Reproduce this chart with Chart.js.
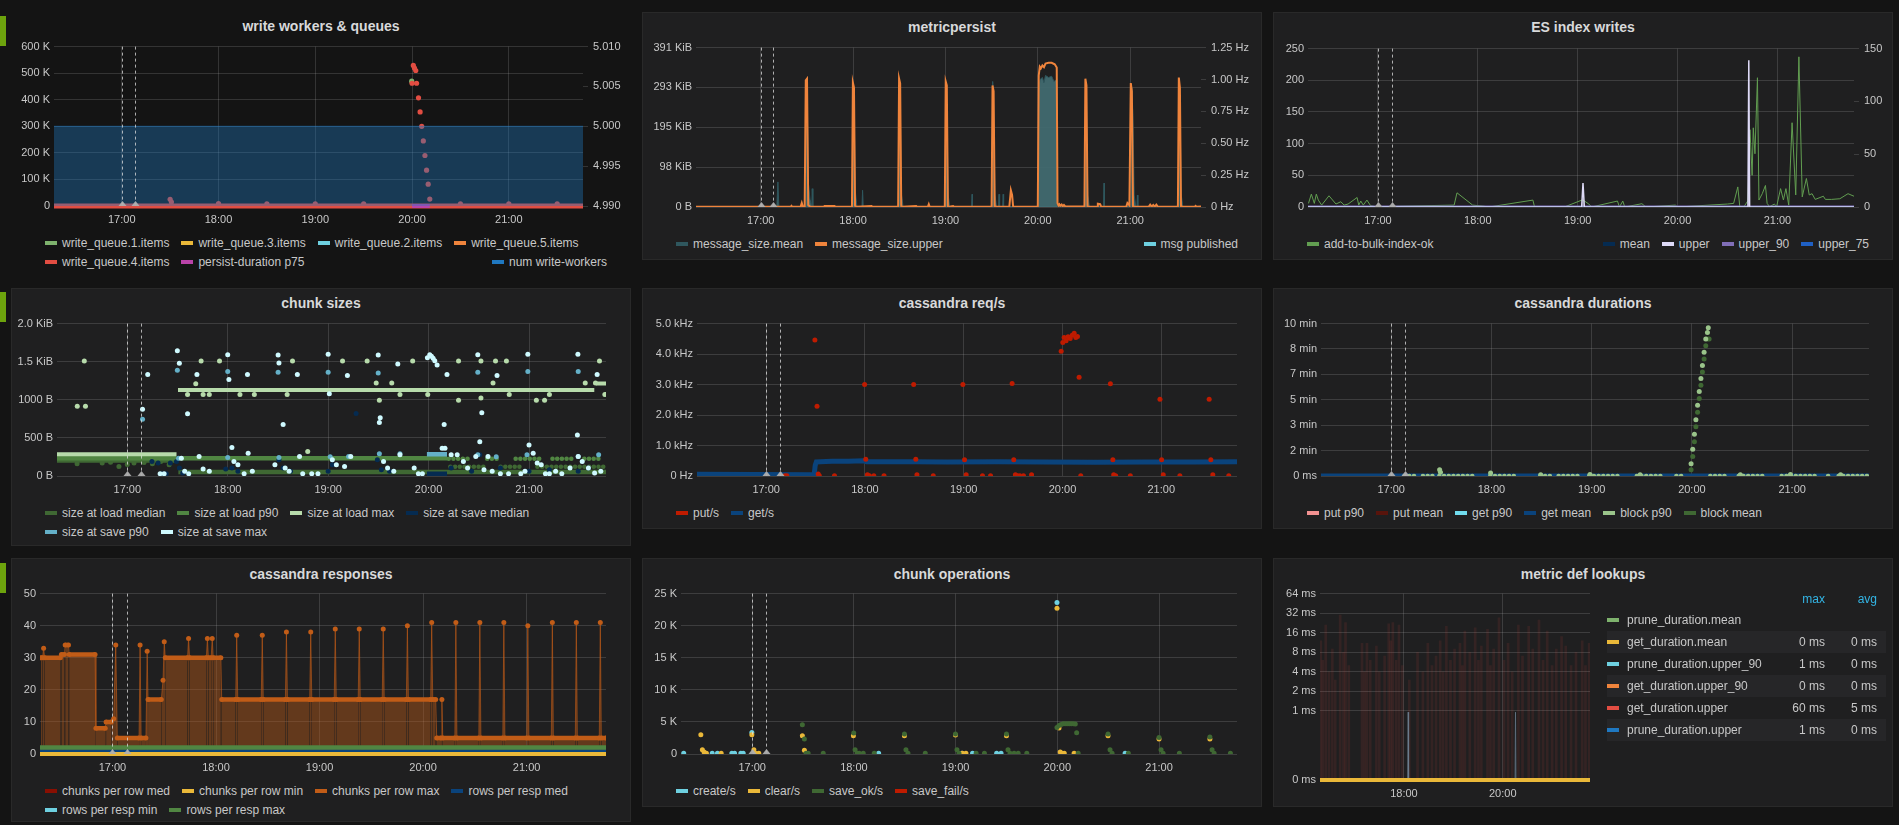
<!DOCTYPE html>
<html>
<head>
<meta charset="utf-8">
<title>metrictank dashboard</title>
<script src="https://cdn.jsdelivr.net/npm/chart.js@4.4.1/dist/chart.umd.min.js"></script>
<style>
  body { margin: 0; width: 1899px; height: 825px; overflow: hidden; background: #141414; font-family: "Liberation Sans", Arial, sans-serif; }
  .panel { position: absolute; box-sizing: border-box; background: #1f1f20; border: 1px solid #292929; }
  .panel.transparent { background: transparent; border-color: transparent; }
  .rowmark { position: absolute; left: 0; width: 6px; height: 30px; background: #6da30d; }
  .ptitle { position: absolute; text-align: center; font-size: 14px; font-weight: bold; line-height: 16px; color: #d8d9da; }
  .legend { position: absolute; font-size: 12px; line-height: 16px; color: #c8c8c8; white-space: nowrap; }
  .li { display: inline-block; margin-right: 12px; }
  .li:last-child { margin-right: 0; }
  .sw { display: inline-block; width: 12px; height: 4px; margin-right: 5px; vertical-align: middle; position: relative; top: -1px; }
  canvas { position: absolute; }
  .ltable { position: absolute; font-size: 12px; color: #c8c8c8; }
  .ltable table { border-collapse: collapse; }
  .ltable td { height: 22px; padding: 0; white-space: nowrap; }
  .ltable tr.odd td { background: #262628; }
  .ltable th { height: 20px; padding: 0; font-weight: normal; color: #33b5e5; text-align: right; }
</style>
</head>
<body>
<script>
// ======================================
// DATA  (time = minutes after 16:00)
// ======================================
const tMin = 18, tMax = 346;
const hourTicks = [60, 120, 180, 240, 300];
const hourLabels = ['17:00', '18:00', '19:00', '20:00', '21:00'];
const lookupHourTicks = [120, 240];
const lookupHourLabels = ['18:00', '20:00'];
const annotationTimes = [60, 68.2];

// --- write workers & queues ---
const wwLeftTicks = [0, 100000, 200000, 300000, 400000, 500000, 600000];
const wwLeftLabels = ['0', '100 K', '200 K', '300 K', '400 K', '500 K', '600 K'];
const wwRightTicks = [4.99, 4.995, 5.0, 5.005, 5.01];
const wwRightLabels = ['4.990', '4.995', '5.000', '5.005', '5.010'];
const numWriteWorkers = [[18, 5], [346, 5]];
const queueIdle = [[18, 0], [346, 0]];
const writeQueue4 = [[90, 25000], [90.8, 15000], [120, 9000], [150, 8000], [180, 8000], [210, 8000], [240, 462000], [240.8, 529000], [241.5, 519000], [242.3, 510000], [242.8, 462000], [244, 407000], [245, 354000], [246, 300000], [247, 245000], [248, 190000], [249, 135000], [250, 82000], [251, 26000], [270, 8000], [300, 8000], [330, 8000]];
const writeQueue1 = [[239.8, 470000]];
const persistP75 = [[240, 0], [251, 0]];

// --- metricpersist ---
const mpLeftTicks = [0, 100000, 200000, 300000, 400000];
const mpLeftLabels = ['0 B', '98 KiB', '195 KiB', '293 KiB', '391 KiB'];
const mpRightTicks = [0, 0.25, 0.5, 0.75, 1, 1.25];
const mpRightLabels = ['0 Hz', '0.25 Hz', '0.50 Hz', '0.75 Hz', '1.00 Hz', '1.25 Hz'];
const msgSizeUpper = [[18, 500], [79.5, 500], [80, 3000], [80.5, 500], [86, 1000], [86.7, 10000], [87.4, 1000], [88.6, 2000], [89.3, 318000], [90.1, 322000], [90.9, 5000], [92, 1000], [101, 500], [101.5, 2500], [108, 2500], [108.5, 500], [119.3, 1000], [119.9, 312000], [120.6, 300000], [121.3, 3000], [122.2, 500], [132, 2500], [132.8, 500], [149.3, 1000], [149.9, 322000], [150.6, 310000], [151.3, 2000], [152.2, 500], [161, 2500], [161.6, 500], [168.6, 500], [169.2, 7000], [169.8, 500], [179.6, 1000], [180.2, 315000], [180.9, 305000], [181.6, 2000], [182.5, 500], [185, 2500], [185.6, 500], [210, 1000], [210.6, 305000], [211.3, 290000], [212, 2000], [213, 500], [221.5, 500], [222.5, 42000], [223.3, 30000], [224, 500], [240, 500], [240.6, 330000], [241.3, 352000], [242, 348000], [243, 355000], [244, 351000], [245, 360000], [247, 362000], [249, 362000], [251, 358000], [252.3, 350000], [252.8, 10000], [253.4, 4000], [254, 7000], [254.6, 3000], [255.5, 6000], [256.2, 2000], [257, 5000], [258, 1000], [270.3, 1000], [270.9, 322000], [271.6, 305000], [272.3, 2000], [273.2, 500], [278.5, 500], [279, 8000], [280.5, 7000], [281.2, 500], [297.5, 1000], [298.2, 10000], [299.5, 4000], [300.4, 311000], [301.1, 290000], [301.8, 2000], [302.7, 500], [312, 500], [313, 6000], [314, 1000], [315, 5000], [316, 1000], [317, 6000], [318, 500], [331, 1000], [331.6, 325000], [332.3, 300000], [333, 2000], [334, 500], [342, 500], [342.5, 2500], [343, 500], [346, 1000]];
const msgSizeMean = [[18, 0], [70.5, 0], [71.2, 63000], [71.8, 0], [88.8, 0], [89.4, 300000], [90.2, 280000], [91, 60000], [92, 20000], [93.2, 0], [93.5, 46000], [93.9, 0], [119.4, 0], [120, 295000], [120.7, 250000], [121.5, 40000], [122.5, 0], [125.8, 0], [126.2, 42000], [126.6, 0], [149.4, 0], [150, 300000], [150.7, 240000], [151.5, 30000], [152.5, 0], [179.7, 0], [180.3, 310000], [181, 230000], [181.8, 30000], [182.8, 0], [197, 0], [197.3, 32000], [197.6, 0], [210.1, 0], [210.7, 315000], [211.4, 230000], [212.2, 30000], [213.2, 0], [214.5, 0], [214.8, 32000], [215.2, 0], [217.2, 0], [217.5, 32000], [217.8, 0], [240.3, 0], [240.8, 300000], [241.5, 320000], [243, 325000], [244, 312000], [245, 330000], [247, 325000], [249, 328000], [250.5, 315000], [252.4, 320000], [252.8, 0], [270.4, 0], [271, 300000], [271.7, 240000], [272.5, 30000], [273.5, 0], [282.7, 0], [283, 60000], [283.3, 0], [300.5, 0], [301.1, 300000], [301.8, 230000], [302.6, 30000], [303.6, 0], [304.4, 0], [304.7, 30000], [305, 0], [331.1, 0], [331.7, 310000], [332.4, 240000], [333.2, 30000], [334.2, 0], [346, 0]];
const msgPublished = [[18, 0], [346, 0]];

// --- ES index writes ---
const esLeftTicks = [0, 50, 100, 150, 200, 250];
const esLeftLabels = ['0', '50', '100', '150', '200', '250'];
const esRightTicks = [0, 50, 100, 150];
const esRightLabels = ['0', '50', '100', '150'];
const bulkIndexOk = [[18.3, 5.7], [20, 20.3], [21.8, 5.7], [23, 20.3], [24.2, 10.9], [26.2, 3], [30.6, 17.7], [34.8, 4.7], [37.7, 8.3], [39.7, 3], [42.1, 4.7], [47.5, 15], [48.5, 3], [49.7, 9.4], [51.2, 3], [53.4, 10.9], [55.6, 2], [58.8, 0.5], [105.8, 3], [107.5, 22.4], [116.9, 3], [123, 1.5], [126.7, 0], [153.1, 10.9], [154.1, 0], [172, 0], [183, 11.4], [186.7, 4.7], [188.4, 0], [203.9, 9.4], [205.1, 0], [207.1, 9.4], [208.3, 0], [218.6, 5.2], [221, 0], [238.7, 3], [239.9, 0], [270, 4.7], [273.7, 5.7], [276.2, 31.7], [277.4, 0.5], [279.9, 0.5], [282.3, 10], [283.5, 122], [284.8, 50], [285.5, 125], [286.5, 84], [288, 204], [288.9, 11], [290.9, 21], [292.8, 34], [293.8, 5.7], [295.3, 0.5], [298.2, 4.7], [299.5, 0.5], [301.9, 29], [303.6, 11], [305.1, 29], [306.8, 3], [308.8, 133], [311, 19], [312.9, 237], [314.9, 16], [317.4, 45], [319.1, 19], [320.8, 21], [322.7, 12], [327.6, 17], [328.8, 12], [332.5, 12], [337.5, 13], [342.4, 21], [346, 17]];
const esUpper = [[18, 0], [182.4, 0], [183.2, 22.8], [184, 0], [282.3, 0], [282.8, 139], [283.3, 0], [346, 0]];
const esUpper90 = [[18, 0], [346, 0]];
const esUpper75 = [[18, 0], [346, 0]];
const esMean = [[18, 0], [346, 0]];

// --- chunk sizes (bytes) ---
const csTicks = [0, 500, 1000, 1500, 2000];
const csLabels = ['0 B', '500 B', '1000 B', '1.5 KiB', '2.0 KiB'];
const loadMedianBand = [[18, 205], [89.4, 205], [89.9, null], [90.5, 52], [346, 52]];
const loadMedianLate = [[253, 121], [275, 121], [276, null], [283, 121], [296, 121], [297, null], [305, 121], [346, 121]];
const loadMedianPts = [[30, 160], [45, 170], [50, 180], [55, 126], [60, 150], [64, 169], [70, 178], [75, 160], [80, 191], [85, 147]];
const loadP90Band = [[18, 234], [89.4, 234], [89.9, null], [90.5, 234], [251, 234]];
const loadP90Late = [[252, 225], [266, 225], [267, null], [275, 225], [282, 225], [283, null], [292, 225], [308, 225], [309, null], [314, 225], [328, 225], [329, null], [333, 225], [344, 225]];
const loadMaxBand = [[18, 287], [89.4, 287], [89.9, null], [90.3, 1128], [339, 1128], [339.5, null], [340, 1215], [346, 1215]];
const loadMaxPts = [[30.1, 915], [34.3, 1510], [35.0, 915], [100.9, 1210], [104.1, 1510], [115.1, 1510], [96, 1071], [105.3, 1071], [109, 1071], [127.3, 1071], [135.9, 1071], [155.5, 1071], [158.7, 1510], [167.8, 321], [188.6, 1510], [203.3, 1510], [208.7, 1219], [210.6, 993], [218, 1219], [222.9, 1071], [230.5, 1510], [239.5, 1071], [257.9, 1510], [257.9, 993], [271.3, 1510], [271.3, 1024], [278.5, 1219], [280, 1510], [286.5, 1510], [288.2, 1071], [304.4, 993], [309.3, 993], [312.2, 1071], [333.6, 1219], [339.7, 1219], [342.1, 1510], [345.3, 1071]];
const saveMedianBand = [[239, 30], [251, 30]];
const saveMedianPts = [[74.7, 191], [78.4, 169], [80.8, 30], [83.3, 30], [85.7, 169], [89.4, 191], [91.1, 104], [93.1, 39], [96.7, 30], [118.8, 91], [122.5, 104], [126.1, 61], [150.6, 213], [153.1, 104], [157.5, 61], [180, 61], [182.5, 147], [196.7, 820], [209.4, 213], [211.8, 82], [216.7, 61], [253.5, 104], [265.7, 61], [270.6, 278], [282.9, 104], [300, 61], [312.2, 82], [329.4, 61], [335.5, 104]];
const saveP90Band = [[239, 286], [251, 286]];
const saveP90Pts = [[69.1, 746], [89.9, 1388], [120, 1371], [150.1, 1362], [180, 1362], [209.9, 1353], [269.4, 1362], [299.3, 1371], [329.4, 1371], [90.6, 234], [120, 243], [150.6, 243], [181.2, 252], [192.2, 256], [210.6, 291], [222.9, 291], [269.4, 278], [280.4, 252], [298.8, 278], [329.4, 256], [341.6, 278]];
const saveMaxPts = [[69.1, 876], [72.2, 1332], [79.6, 30], [82, 30], [89.9, 1644], [91.1, 1479], [92.3, 234], [94.3, 61], [96, 816], [96.7, 30], [101.6, 1332], [102.9, 256], [105.3, 91], [109, 61], [120, 1592], [120.7, 1267], [122.5, 373], [123.7, 191], [126.1, 147], [129.8, 30], [131.8, 1332], [132.2, 299], [134.7, 61], [148.2, 147], [150.1, 1588], [150.6, 1484], [153.1, 677], [154.3, 104], [156.7, 61], [161.6, 1332], [162.9, 256], [164.8, 30], [170.2, 30], [173.9, 30], [180, 1597], [180.7, 1080], [182.5, 213], [184.9, 147], [189.8, 126], [191.5, 1319], [193.5, 256], [209.9, 1588], [210.6, 703], [211.1, 763], [213.1, 191], [215.5, 104], [219.2, 61], [221.6, 1471], [222.9, 278], [231.4, 104], [233.9, 30], [236.3, 30], [239.3, 1553], [240.7, 1592], [241.7, 1570], [242.7, 1544], [243.7, 1514], [245.1, 1458], [248.1, 364], [249.3, 677], [249.8, 364], [251, 1332], [253.5, 278], [257.1, 278], [260.8, 191], [263.3, 104], [268.2, 256], [269.4, 1592], [270.6, 451], [271.8, 829], [273.1, 82], [275.5, 256], [278, 61], [280.9, 1319], [282.9, 30], [287.8, 30], [295.1, 30], [297.6, 61], [299.3, 1597], [300, 408], [302.5, 299], [304.9, 169], [307.3, 147], [309.8, 30], [312.2, 30], [315.9, 61], [319.6, 30], [324.5, 104], [328.9, 538], [329.2, 1597], [329.4, 256], [331.8, 191], [335.5, 104], [339.2, 39], [340.7, 1332], [342.9, 61]];

// --- cassandra req/s ---
const crqTicks = [0, 1000, 2000, 3000, 4000, 5000];
const crqLabels = ['0 Hz', '1.0 kHz', '2.0 kHz', '3.0 kHz', '4.0 kHz', '5.0 kHz'];
const putRate = [[71.4, 11], [72.6, 11], [89.6, 4458], [90.9, 2288], [91.6, 65], [92.3, 11], [101.5, 11], [119.8, 3004], [120.5, 553], [121.5, 43], [122.7, 11], [125.4, 11], [131.6, 11], [149.6, 3004], [150.9, 553], [151.6, 43], [161.5, 11], [179.5, 3004], [180.5, 531], [181.5, 43], [191.4, 11], [196.3, 11], [209.4, 3037], [210.4, 531], [211.4, 43], [212.6, 11], [214.1, 11], [216.3, 11], [221.2, 43], [239.2, 4089], [240.2, 4382], [241, 4545], [242.2, 4436], [243.4, 4566], [244.7, 4512], [245.9, 4620], [247.1, 4686], [248.1, 4545], [249.1, 4577], [250.1, 3243], [251.1, 11], [269.1, 3026], [270.6, 531], [271.1, 43], [272.3, 11], [281.2, 11], [299.2, 2516], [300.2, 531], [301.2, 43], [311.3, 11], [329.1, 2516], [330.1, 531], [331.3, 43], [341, 11]];
const getRate = [[18, 54], [89.2, 45], [89.8, 350], [90.5, 460], [93, 470], [100, 480], [110, 485], [119, 500], [121, 470], [130, 465], [150, 470], [170, 462], [200, 466], [230, 462], [260, 455], [290, 462], [320, 462], [346, 466]];

// --- cassandra durations (seconds) ---
const cdTicks = [0, 100, 200, 300, 400, 500, 600];
const cdLabels = ['0 ms', '2 min', '3 min', '5 min', '7 min', '8 min', '10 min'];
const getMeanDur = [[18, 0], [346, 0]];
const blockP90Runs = [[68, 73.7], [79, 86.8], [88.8, 109.5], [119.3, 135.1], [149.3, 155.9], [160.2, 174.1], [178.5, 197.3], [207, 222.9], [230.7, 235.1], [251, 260.7], [268, 283.9], [293.7, 315.6], [321.5, 322], [327.8, 344.9]];
const blockP90 = [[89, 25], [89.5, 15], [119.5, 12], [149.5, 5], [179, 6], [209, 5], [269, 5], [299, 6], [329, 5], [239.5, 48], [240.5, 105], [241.5, 164], [242.4, 221], [243.4, 279], [244.4, 333], [245.4, 384], [246.3, 435], [247.3, 487], [248.3, 539], [249.3, 565], [249.8, 584]];
const blockMean = [[239.5, 25], [240.5, 77], [241.5, 135], [242.4, 194], [243.4, 251], [244.4, 305], [245.4, 357], [246.3, 409], [247.3, 461], [248.3, 513], [249.3, 539], [250.3, 539]];

// --- cassandra responses ---
const crTicks = [0, 10, 20, 30, 40, 50];
const crLabels = ['0', '10', '20', '30', '40', '50'];
const chunksPerRowMax = [[18.5, 30], [19.5, 30], [20.1, 33], [20.7, 30], [29.8, 30], [30.4, 31], [32.2, 31], [32.6, 34], [34.5, 34], [34.9, 31], [49.9, 31], [50.4, 8], [55.8, 8], [56.3, 10], [59.3, 10], [60.7, 11], [61.9, 34], [62.8, 5], [75.4, 5], [76, 34], [76.6, 5], [79.4, 5], [80.1, 32], [80.6, 17], [88.3, 17], [89.3, 23], [90, 35], [90.6, 30], [103.5, 30], [104.1, 36], [104.7, 30], [114.4, 30], [115, 36], [115.6, 30], [117.2, 30], [117.8, 36], [118.4, 30], [122.8, 30], [123.3, 17], [131.4, 17], [132, 37], [132.6, 17], [146.2, 17], [146.8, 37], [147.4, 17], [160.2, 17], [160.8, 38], [161.4, 17], [174.3, 17], [174.9, 38], [175.5, 17], [188.5, 17], [189.1, 39], [189.7, 17], [202.4, 17], [203, 39], [203.6, 17], [216.3, 17], [216.9, 39], [217.5, 17], [230.3, 17], [230.9, 40], [231.5, 17], [244.4, 17], [245, 41], [245.6, 17], [247.3, 17], [247.9, 5], [250.4, 5], [250.9, 17], [251.4, 5], [258.4, 5], [259, 41], [259.6, 5], [272.3, 5], [272.9, 41], [273.5, 5], [286.2, 5], [286.8, 41], [287.4, 5], [300.1, 5], [300.7, 40], [301.3, 5], [314.3, 5], [314.9, 41], [315.5, 5], [328.2, 5], [328.8, 41], [329.4, 5], [342.1, 5], [342.7, 41], [343.3, 5], [346, 5]];
const chunksPerRowMin = [[18, 0], [346, 0]];
const chunksPerRowMed = [[18, 1], [346, 1]];
const rowsPerRespMax = [[18, 2], [346, 2]];
const rowsPerRespMed = [[18, 1], [346, 1]];
const rowsPerRespMin = [[18, 1], [346, 1]];

// --- chunk operations ---
const coTicks = [0, 5000, 10000, 15000, 20000, 25000];
const coLabels = ['0', '5 K', '10 K', '15 K', '20 K', '25 K'];
const createRate = [[19.6, 100], [36.4, 100], [39.5, 100], [48, 100], [49.6, 100], [53.3, 100], [54.7, 100], [59.8, 3364], [134.6, 100], [183.7, 100], [190, 100], [204.2, 100], [206.8, 100], [239.8, 23600], [280, 100]];
const clearRate = [[29.7, 3002], [30.6, 673], [31.6, 311], [33, 100], [41.7, 100], [59.8, 3002], [61, 673], [61.9, 100], [63.9, 100], [89.6, 2847], [90.8, 569], [119.7, 2847], [149.8, 2847], [179.9, 2950], [184, 100], [186.1, 100], [210, 2847], [239.8, 22722], [241, 4037], [241.7, 311], [242.7, 100], [244.1, 100], [249.9, 100], [269.9, 2847], [300, 2329], [330, 2329]];
const saveOkRate = [[89.6, 4555], [90.8, 2329], [91.8, 100], [93, 100], [101.9, 100], [119.9, 3261], [120.7, 673], [121.9, 100], [123.1, 100], [125.5, 100], [132, 100], [149.8, 3106], [150.7, 673], [151.9, 100], [162.1, 100], [179.9, 3106], [180.8, 673], [182, 100], [192.1, 100], [197, 100], [210, 3106], [210.9, 673], [212.1, 100], [214.5, 100], [216.9, 100], [222, 100], [239.8, 4141], [241, 4451], [242.2, 4607], [243.4, 4710], [244.6, 4710], [245.8, 4710], [247, 4710], [248.2, 4710], [249.4, 4710], [250.6, 4658], [251.4, 3313], [252.3, 100], [269.9, 3106], [271.1, 673], [272.3, 100], [281.9, 100], [300, 2588], [301.2, 673], [302.4, 100], [312, 100], [330, 2640], [331.3, 673], [332.5, 100], [342.1, 100]];
const saveFailRate = [];

// --- metric def lookups (ms, log axis) ---
const mdTicks = [0.0866, 1, 2, 4, 8, 16, 32, 64];
const mdLabels = ['0 ms', '1 ms', '2 ms', '4 ms', '8 ms', '16 ms', '32 ms', '64 ms'];
const getDurUpper = [[19, 12], [21.5, 6], [25, 21], [29, 4], [33, 9], [36.5, 3], [42.5, 30], [46.5, 8], [49, 23], [53, 5], [69, 11], [72, 4], [75, 11], [79, 6], [86.5, 10], [90, 4], [96.5, 7], [101.5, 22], [104, 12], [106.5, 23], [110.5, 6], [114, 21], [118, 5], [126.5, 3], [136.5, 8], [143, 4], [149, 11], [154, 5], [159, 7], [164, 12], [167.5, 4], [171.5, 20], [176.5, 6], [181.5, 9], [188, 11], [191, 5], [194, 17], [200, 8], [206.5, 19], [210.5, 6], [214, 10], [221.5, 18], [225, 5], [229, 9], [235.5, 27], [241.5, 6], [246.5, 11], [251.5, 4], [259, 21], [264, 7], [271.5, 20], [276.5, 9], [284, 25], [289, 6], [294, 17], [300, 5], [305, 9], [311.5, 14], [316.5, 10], [323, 5], [329, 8], [336.5, 12], [340.5, 5], [345, 11]];
const pruneDurUpper = [[18, 0], [124.3, 0], [125, 0.96], [125.7, 0], [254.8, 0], [255.5, 0.96], [256.2, 0], [346, 0]];
const getDurMean = [[18, 0], [346, 0]];
const lookupNames = ['prune_duration.mean', 'get_duration.mean', 'prune_duration.upper_90', 'get_duration.upper_90', 'get_duration.upper', 'prune_duration.upper'];
const lookupColors = ['#7EB26D', '#EAB839', '#6ED0E0', '#EF843C', '#E24D42', '#1F78C1'];
const lookupMax = ['', '0 ms', '1 ms', '0 ms', '60 ms', '1 ms'];
const lookupAvg = ['', '0 ms', '0 ms', '0 ms', '5 ms', '0 ms'];

// ======================================
// LAYOUT (page pixels)
// ======================================
const layout = {
  ww:  { panel: [11, 12, 631, 260],    plot: [54, 45, 583, 206],     titleY: 26,  legendY: 243, transparent: true },
  mp:  { panel: [642, 12, 1262, 260],  plot: [696, 46, 1201, 207],   titleY: 27,  legendY: 244 },
  es:  { panel: [1273, 12, 1893, 260], plot: [1308, 47, 1854, 207],  titleY: 27,  legendY: 244 },
  cs:  { panel: [11, 288, 631, 546],   plot: [57, 323, 606, 476],    titleY: 303, legendY: 513 },
  crq: { panel: [642, 288, 1262, 529], plot: [697, 323, 1237, 476],  titleY: 303, legendY: 513 },
  cd:  { panel: [1273, 288, 1893, 529], plot: [1321, 323, 1869, 476], titleY: 303, legendY: 513 },
  cr:  { panel: [11, 558, 631, 822],   plot: [40, 593, 606, 754],    titleY: 574, legendY: 791 },
  co:  { panel: [642, 558, 1262, 807], plot: [681, 593, 1237, 754],  titleY: 574, legendY: 791 },
  md:  { panel: [1273, 558, 1893, 807], plot: [1320, 593, 1590, 780], titleY: 574 }
};
const rowMarks = [16, 292, 563];
const gridColor = 'rgba(200,200,200,0.18)';

// ======================================
// HELPERS
// ======================================
Chart.defaults.font.family = '"Liberation Sans", Arial, sans-serif';
Chart.defaults.font.size = 11;
Chart.defaults.color = '#c8c8c8';

const annotPlugin = {
  id: 'annot',
  afterDatasetsDraw(chart, args, opts) {
    if (!opts.times || !opts.times.length) return;
    const { ctx, chartArea: a } = chart;
    const x = chart.scales.x;
    ctx.save();
    opts.times.forEach(t => {
      const px = Math.round(x.getPixelForValue(t)) + 0.5;
      ctx.strokeStyle = 'rgba(225,225,225,0.75)';
      ctx.lineWidth = 1;
      ctx.setLineDash([3, 3]);
      ctx.beginPath(); ctx.moveTo(px, a.top); ctx.lineTo(px, a.bottom); ctx.stroke();
      ctx.setLineDash([]);
      ctx.fillStyle = 'rgba(175,175,175,0.95)';
      ctx.beginPath(); ctx.moveTo(px - 4, a.bottom); ctx.lineTo(px + 4, a.bottom); ctx.lineTo(px, a.bottom - 5); ctx.closePath(); ctx.fill();
    });
    ctx.restore();
  }
};
Chart.register(annotPlugin);

function xy(a) { return a.map(p => ({ x: p[0], y: p[1] })); }
function runsAt(runs, v) {
  const out = [];
  runs.forEach(r => { out.push({ x: r[0], y: v }, { x: r[1], y: v }, { x: r[1] + 0.01, y: null }); });
  return out;
}
function band(data, color, width, extra) {
  return Object.assign({ data: Array.isArray(data[0]) ? xy(data) : data, borderColor: color, backgroundColor: color, borderWidth: width, pointRadius: 0, fill: false, spanGaps: false }, extra);
}
function dots(data, color, r, extra) {
  return Object.assign({ data: xy(data), showLine: false, borderColor: color, backgroundColor: color, pointRadius: r || 2.5, pointBorderWidth: 0, fill: false }, extra);
}
function dotted(data, color, width, extra) {
  return band(data, color, width, Object.assign({ borderDash: [0.1, 4.6], borderCapStyle: 'round' }, extra));
}

function addDiv(cls, css, html) {
  const d = document.createElement('div');
  d.className = cls; d.style.cssText = css;
  if (html) d.innerHTML = html;
  document.body.appendChild(d);
  return d;
}
function legendHtml(items) {
  return items.map(s => `<span class="li"><i class="sw" style="background:${s[1]}"></i>${s[0]}</span>`).join('');
}
function drawFrame(key, title, rows, rightItems) {
  const L = layout[key];
  const [l, t, r, b] = L.panel;
  addDiv('panel' + (L.transparent ? ' transparent' : ''), `left:${l}px;top:${t}px;width:${r - l}px;height:${b - t}px`);
  addDiv('ptitle', `left:${l}px;width:${r - l}px;top:${L.titleY - 8}px`, title);
  (rows || []).forEach((row, i) => {
    addDiv('legend', `left:${l + 34}px;top:${L.legendY - 8 + i * 19}px`, legendHtml(row));
  });
  if (rightItems) {
    addDiv('legend', `right:${1899 - (r - 24)}px;top:${L.legendY - 8 + (rows.length - 1) * 19}px`, legendHtml(rightItems));
  }
}

function makeChart(key, datasets, yOpt, y1Opt, xTicks, xLabels, annotate) {
  const L = layout[key];
  const left = L.panel[0] + 1, right = L.panel[2] - 1;
  const top = L.plot[1] - 10, bottom = L.plot[3] + 24;
  const cv = document.createElement('canvas');
  cv.width = right - left; cv.height = bottom - top;
  cv.style.left = left + 'px'; cv.style.top = top + 'px';
  document.body.appendChild(cv);
  const scales = {
    x: {
      type: 'linear', min: tMin, max: tMax, offset: false,
      afterBuildTicks: s => { s.ticks = xTicks.map(v => ({ value: v })); },
      afterFit: s => { s.height = 24; },
      grid: { color: gridColor, drawTicks: false, offset: false },
      border: { display: false },
      ticks: { padding: 7, maxRotation: 0, autoSkip: false, callback: (v, i) => xLabels[i] }
    },
    y: {
      type: yOpt.type || 'linear', position: 'left', min: yOpt.min || 0, max: yOpt.max,
      afterBuildTicks: s => { s.ticks = yOpt.ticks.map(v => ({ value: v })); },
      afterFit: s => { s.width = L.plot[0] - left; },
      grid: { color: gridColor, drawTicks: false },
      border: { display: false },
      ticks: { padding: 4, autoSkip: false, callback: (v, i) => yOpt.labels[i] }
    }
  };
  if (y1Opt) {
    scales.y1 = {
      type: 'linear', position: 'right', min: y1Opt.min || 0, max: y1Opt.max,
      afterBuildTicks: s => { s.ticks = y1Opt.ticks.map(v => ({ value: v })); },
      afterFit: s => { s.width = right - L.plot[2]; },
      grid: { drawOnChartArea: false, color: gridColor, tickLength: 5 },
      border: { display: false },
      ticks: { padding: 5, autoSkip: false, callback: (v, i) => y1Opt.labels[i] }
    };
  }
  return new Chart(cv, {
    type: 'line',
    data: { datasets },
    options: {
      responsive: false, animation: false, events: [],
      layout: { padding: { top: 10, left: 0, bottom: 0, right: y1Opt ? 0 : right - L.plot[2] } },
      scales,
      plugins: { legend: { display: false }, tooltip: { enabled: false }, annot: { times: annotate ? annotationTimes : [] } }
    }
  });
}

// ======================================
// PANELS
// ======================================
rowMarks.forEach(y => addDiv('rowmark', `top:${y}px`));

// write workers & queues
drawFrame('ww', 'write workers &amp; queues',
  [[['write_queue.1.items', '#7EB26D'], ['write_queue.3.items', '#EAB839'], ['write_queue.2.items', '#6ED0E0'], ['write_queue.5.items', '#EF843C']],
   [['write_queue.4.items', '#E24D42'], ['persist-duration p75', '#BA43A9']]],
  [['num write-workers', '#1F78C1']]);
makeChart('ww', [
  band(numWriteWorkers, 'rgba(31,120,193,0.55)', 1, { yAxisID: 'y1', fill: 'origin', backgroundColor: 'rgba(31,120,193,0.38)', order: 0 }),
  band(persistP75, '#BA43A9', 4, { order: 1, clip: 6 }),
  dots(writeQueue4, '#E24D42', 2.6, { order: 2 }),
  band(queueIdle, '#E24D42', 5, { order: 3, clip: 6 }),
  dots(writeQueue1, '#7EB26D', 2.6, { order: 4 }),
  band(queueIdle, '#EF843C', 4, { order: 5 }),
  band(queueIdle, '#6ED0E0', 4, { order: 6 }),
  band(queueIdle, '#EAB839', 4, { order: 7 }),
  band(queueIdle, '#7EB26D', 4, { order: 8 })
], { ticks: wwLeftTicks, labels: wwLeftLabels, max: 600000 }, { ticks: wwRightTicks, labels: wwRightLabels, min: 4.99, max: 5.01 }, hourTicks, hourLabels, true);

// metricpersist
drawFrame('mp', 'metricpersist', [[['message_size.mean', '#2F575E'], ['message_size.upper', '#EF843C']]], [['msg published', '#6ED0E0']]);
makeChart('mp', [
  band(msgSizeUpper, '#EF843C', 2, { order: 0 }),
  band(msgSizeMean, '#2F575E', 1, { fill: 'origin', backgroundColor: 'rgba(66,108,114,0.92)', order: 1 }),
  band(msgPublished, '#6ED0E0', 1, { yAxisID: 'y1', order: 2 })
], { ticks: mpLeftTicks, labels: mpLeftLabels, max: 400000 }, { ticks: mpRightTicks, labels: mpRightLabels, max: 1.25 }, hourTicks, hourLabels, true);

// ES index writes
drawFrame('es', 'ES index writes', [[['add-to-bulk-index-ok', '#629E51']]],
  [['mean', '#052B51'], ['upper', '#DEDAF7'], ['upper_90', '#806EB7'], ['upper_75', '#1F60C4']]);
makeChart('es', [
  band(esUpper, '#DEDAF7', 1.5, { yAxisID: 'y1', fill: 'origin', backgroundColor: 'rgba(222,218,247,0.35)', order: 0 }),
  band(esUpper75, '#3f6ec4', 1.5, { yAxisID: 'y1', order: 1 }),
  band(esUpper90, '#806EB7', 3, { yAxisID: 'y1', order: 2 }),
  band(esMean, '#052B51', 2, { yAxisID: 'y1', order: 3 }),
  band(bulkIndexOk, '#629E51', 1, { order: 4 })
], { ticks: esLeftTicks, labels: esLeftLabels, max: 250 }, { ticks: esRightTicks, labels: esRightLabels, max: 150 }, hourTicks, hourLabels, true);

// chunk sizes
drawFrame('cs', 'chunk sizes',
  [[['size at load median', '#3F6833'], ['size at load p90', '#508642'], ['size at load max', '#B7DBAB'], ['size at save median', '#052B51']],
   [['size at save p90', '#64B0C8'], ['size at save max', '#CFFAFF']]]);
makeChart('cs', [
  dots(saveMaxPts, '#CFFAFF', 2.5, { order: 0 }),
  dots(saveP90Pts, '#64B0C8', 2.5, { order: 1 }),
  band(saveP90Band, '#64B0C8', 4.5, { order: 1 }),
  dots(saveMedianPts, '#052B51', 2.5, { order: 2 }),
  band(saveMedianBand, '#052B51', 4.5, { order: 2 }),
  dots(loadMaxPts, '#B7DBAB', 2.5, { order: 3 }),
  band(loadMaxBand, '#B7DBAB', 4, { order: 3 }),
  band(loadP90Band, '#508642', 4.5, { order: 4 }),
  dotted(loadP90Late, '#508642', 4.5, { order: 4 }),
  band(loadMedianBand, '#3F6833', 4.5, { order: 5 }),
  dotted(loadMedianLate, '#3F6833', 4.5, { order: 5 }),
  dots(loadMedianPts, '#3F6833', 2.5, { order: 5 })
], { ticks: csTicks, labels: csLabels, max: 2000 }, null, hourTicks, hourLabels, true);

// cassandra req/s
drawFrame('crq', 'cassandra req/s', [[['put/s', '#BF1B00'], ['get/s', '#0A437C']]]);
makeChart('crq', [
  dots(putRate, '#BF1B00', 2.5, { order: 0 }),
  band(getRate, '#0A437C', 5, { order: 1 })
], { ticks: crqTicks, labels: crqLabels, max: 5000 }, null, hourTicks, hourLabels, true);

// cassandra durations
drawFrame('cd', 'cassandra durations',
  [[['put p90', '#F29191'], ['put mean', '#58140C'], ['get p90', '#70DBED'], ['get mean', '#0A437C'], ['block p90', '#9AC48A'], ['block mean', '#3F6833']]]);
makeChart('cd', [
  dots(blockP90, '#9AC48A', 2.5, { order: 0 }),
  dotted(runsAt(blockP90Runs, 0), '#9AC48A', 4.5, { order: 1 }),
  dots(blockMean, '#3F6833', 2.5, { order: 2 }),
  band(getMeanDur, '#0A437C', 5, { order: 3 })
], { ticks: cdTicks, labels: cdLabels, max: 600 }, null, hourTicks, hourLabels, true);

// cassandra responses
drawFrame('cr', 'cassandra responses',
  [[['chunks per row med', '#890F02'], ['chunks per row min', '#EAB839'], ['chunks per row max', '#C15C17'], ['rows per resp med', '#0A437C']],
   [['rows per resp min', '#6ED0E0'], ['rows per resp max', '#508642']]]);
makeChart('cr', [
  band(rowsPerRespMax, '#508642', 4.5, { order: 0 }),
  band(chunksPerRowMin, '#EAB839', 4, { order: 1, clip: 6 }),
  band(rowsPerRespMed, '#0A437C', 3, { order: 2 }),
  band(chunksPerRowMax, '#C15C17', 1, {
    order: 3, fill: 'origin', backgroundColor: 'rgba(193,92,23,0.42)',
    pointRadius: 2.5, pointBorderWidth: 0, pointBackgroundColor: '#C15C17',
    segment: {
      borderWidth: c => (c.p0.parsed.y === c.p1.parsed.y ? 4.5 : 1),
      borderColor: c => (c.p0.parsed.y === c.p1.parsed.y ? '#C15C17' : 'rgba(193,92,23,0.6)')
    }
  }),
  band(chunksPerRowMed, '#890F02', 2, { order: 4 }),
  band(rowsPerRespMin, '#6ED0E0', 1, { order: 5 })
], { ticks: crTicks, labels: crLabels, max: 50 }, null, hourTicks, hourLabels, true);

// chunk operations
drawFrame('co', 'chunk operations', [[['create/s', '#6ED0E0'], ['clear/s', '#EAB839'], ['save_ok/s', '#3F6833'], ['save_fail/s', '#BF1B00']]]);
makeChart('co', [
  dots(saveFailRate, '#BF1B00', 2.5, { order: 0 }),
  dots(saveOkRate, '#3F6833', 2.5, { order: 1 }),
  dots(clearRate, '#EAB839', 2.5, { order: 2 }),
  dots(createRate, '#6ED0E0', 2.5, { order: 3 })
], { ticks: coTicks, labels: coLabels, max: 25000 }, null, hourTicks, hourLabels, true);

// metric def lookups (log axis: zero samples sit on the axis floor, as Grafana draws them)
drawFrame('md', 'metric def lookups');
const logFloor = mdTicks[0];
const onLog = a => a.map(p => [p[0], p[1] === 0 ? logFloor : p[1]]);
makeChart('md', [
  band(onLog(getDurMean), '#EAB839', 4, { order: 0, clip: 6 }),
  band(onLog(pruneDurUpper), 'rgba(120,140,160,0.5)', 1, { order: 1, fill: 'origin', backgroundColor: 'rgba(110,130,150,0.4)' }),
  { type: 'bar', data: xy(getDurUpper), base: logFloor, barThickness: 2, backgroundColor: 'rgba(226,77,66,0.11)', borderWidth: 0, order: 2 }
], { type: 'logarithmic', ticks: mdTicks, labels: mdLabels, min: logFloor, max: 64 }, null, lookupHourTicks, lookupHourLabels, false);

// metric def lookups legend table
(function () {
  let html = '<table><tr><th style="width:170px"></th><th style="width:48px">max</th><th style="width:52px">avg</th><th style="width:9px"></th></tr>';
  lookupNames.forEach((n, i) => {
    html += `<tr class="${i % 2 ? 'odd' : ''}"><td><i class="sw" style="background:${lookupColors[i]};margin-right:8px"></i>${n}</td>` +
      `<td style="text-align:right">${lookupMax[i]}</td><td style="text-align:right">${lookupAvg[i]}</td><td></td></tr>`;
  });
  html += '</table>';
  addDiv('ltable', 'left:1607px;top:589px', html);
})();
</script>
</body>
</html>
